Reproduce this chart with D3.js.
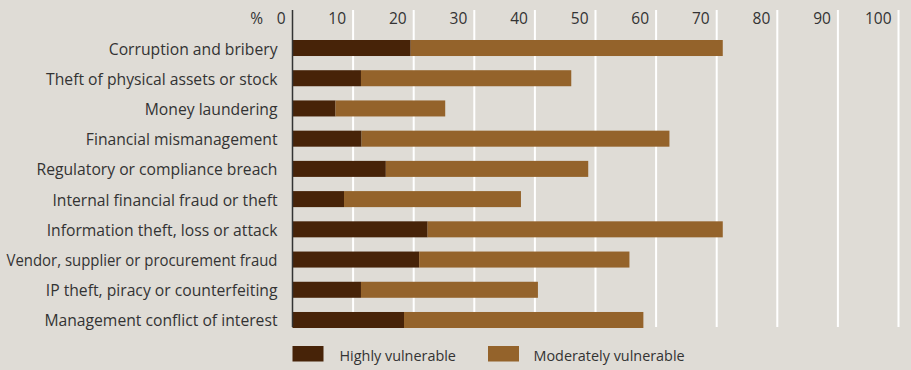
<!DOCTYPE html>
<html>
<head>
<meta charset="utf-8">
<script src="https://cdn.jsdelivr.net/npm/d3@7"></script>
<style>
  html, body { margin: 0; padding: 0; background: #dfdcd6; }
  svg { display: block; }
  text { font-family: "Open Sans", "Noto Sans", sans-serif; fill: #333; }
</style>
</head>
<body>
<svg id="chart" width="911" height="370"></svg>
<script>
const categories = [
  "Corruption and bribery",
  "Theft of physical assets or stock",
  "Money laundering",
  "Financial mismanagement",
  "Regulatory or compliance breach",
  "Internal financial fraud or theft",
  "Information theft, loss or attack",
  "Vendor, supplier or procurement fraud",
  "IP theft, piracy or counterfeiting",
  "Management conflict of interest"
];
const highly     = [19.5, 11.3, 7.1, 11.4, 15.4, 8.5, 22.3, 20.9, 11.3, 18.4];
const moderately = [51.5, 34.7, 18.1, 50.8, 33.4, 29.2, 48.7, 34.7, 29.2, 39.5];
const seriesNames = ["Highly vulnerable", "Moderately vulnerable"];
const seriesColors = ["#472308", "#94632b"];
const tickValues = [0, 10, 20, 30, 40, 50, 60, 70, 80, 90, 100];

const svg = d3.select("#chart");

const x = d3.scaleLinear().domain([0, 100]).range([292.5, 898.5]);
const y = d3.scaleBand().domain(categories).range([40, 328]).paddingInner(0.47).paddingOuter(0);

const gridTop = 10, gridBottom = 327;

// vertical gridlines
svg.append("g")
  .selectAll("line")
  .data(tickValues.filter(d => d > 0))
  .join("line")
  .attr("x1", d => x(d)).attr("x2", d => x(d))
  .attr("y1", gridTop).attr("y2", gridBottom)
  .attr("stroke", "#ffffff").attr("stroke-width", 2);

// top axis tick labels, right-aligned just left of each gridline
svg.append("g")
  .selectAll("text")
  .data(tickValues)
  .join("text")
  .attr("x", d => x(d) - 7)
  .attr("y", 24)
  .attr("text-anchor", "end")
  .attr("font-size", 15.5)
  .text(d => d);

svg.append("text")
  .attr("x", 263).attr("y", 24)
  .attr("text-anchor", "end")
  .attr("font-size", 15.5)
  .text("%");

// stacked bars
const rows = categories.map((c, i) => ({ cat: c, vals: [highly[i], moderately[i]] }));
const stack = d3.stack().keys([0, 1]).value((d, k) => d.vals[k]);
const layers = stack(rows);

svg.append("g")
  .selectAll("g")
  .data(layers)
  .join("g")
  .attr("fill", (d, i) => seriesColors[i])
  .selectAll("rect")
  .data(d => d)
  .join("rect")
  .attr("x", d => x(d[0]))
  .attr("width", d => x(d[1]) - x(d[0]))
  .attr("y", d => y(d.data.cat))
  .attr("height", y.bandwidth());

// zero axis line
svg.append("line")
  .attr("x1", x(0)).attr("x2", x(0))
  .attr("y1", gridTop).attr("y2", gridBottom)
  .attr("stroke", "#333").attr("stroke-width", 1.5);

// category labels; long ones are squeezed so they stay inside the left margin
const labelRight = 277.5, labelMaxWidth = 271;
svg.append("g")
  .selectAll("text")
  .data(categories)
  .join("text")
  .attr("x", labelRight)
  .attr("y", d => y(d) + y.bandwidth() / 2 + 6.5)
  .attr("text-anchor", "end")
  .attr("font-size", 15.7)
  .text(d => d)
  .each(function () {
    if (this.getComputedTextLength() > labelMaxWidth) {
      d3.select(this)
        .attr("textLength", labelMaxWidth)
        .attr("lengthAdjust", "spacingAndGlyphs");
    }
  });

// legend
const legend = svg.append("g");
const legendX = [292.5, 488];
const legendTextX = [339.5, 533.5];
seriesNames.forEach((name, i) => {
  legend.append("rect")
    .attr("x", legendX[i]).attr("y", 346)
    .attr("width", 31).attr("height", 15.5)
    .attr("fill", seriesColors[i]);
  legend.append("text")
    .attr("x", legendTextX[i]).attr("y", 360.5)
    .attr("font-size", 14.4)
    .text(name);
});
</script>
</body>
</html>
